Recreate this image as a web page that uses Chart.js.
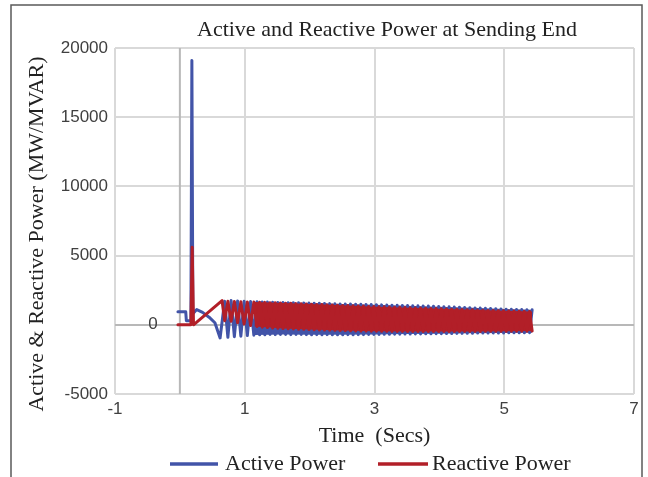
<!DOCTYPE html>
<html>
<head>
<meta charset="utf-8">
<script src="https://cdn.jsdelivr.net/npm/chart.js@4.4.1/dist/chart.umd.min.js"></script>
<style>
  html,body{margin:0;padding:0;background:#fff;}
  #wrap{width:648px;height:477px;}
</style>
</head>
<body>
<div id="wrap"><canvas id="chart" width="648" height="477"></canvas></div>
<script>
// start of the record (before the oscillations)
const activeStartTime = [-0.03, 0.09, 0.10, 0.17, 0.185, 0.20, 0.26, 0.35, 0.45, 0.54, 0.62];
const activeStart     = [950, 950, 300, 300, 19100, 800, 1100, 900, 550, 150, -950];
const reactiveStartTime = [-0.03, 0.17, 0.19, 0.21, 0.65];
const reactiveStart     = [0, 0, 5600, 0, 1750];

// oscillations (times shared by both series)
const bandTime = [
  0.69,0.74,0.79,0.84,0.89,0.94,0.99,1.04,1.09,1.14,1.19,
  1.23,1.27,1.31,1.35,1.39,1.43,1.47,1.51,1.55,1.59,
  1.63,1.67,1.71,1.75,1.79,1.83,1.87,1.91,1.95,1.99,
  2.03,2.07,2.11,2.15,2.19,2.23,2.27,2.31,2.35,2.39,
  2.43,2.47,2.51,2.55,2.59,2.63,2.67,2.71,2.75,2.79,
  2.83,2.87,2.91,2.95,2.99,3.03,3.07,3.11,3.15,3.19,
  3.23,3.27,3.31,3.35,3.39,3.43,3.47,3.51,3.55,3.59,
  3.63,3.67,3.71,3.75,3.79,3.83,3.87,3.91,3.95,3.99,
  4.03,4.07,4.11,4.15,4.19,4.23,4.27,4.31,4.35,4.39,
  4.43,4.47,4.51,4.55,4.59,4.63,4.67,4.71,4.75,4.79,
  4.83,4.87,4.91,4.95,4.99,5.03,5.07,5.11,5.15,5.19,
  5.23,5.27,5.31,5.35,5.39,5.43
];
const activeBand = [
  1700,-900,1750,-860,1720,-820,1700,-780,1680,-750,1660,
  -720,1650,-720,1640,-700,1630,-710,1620,-700,1610,
  -700,1600,-710,1600,-700,1590,-700,1580,-710,1570,
  -720,1560,-710,1550,-720,1540,-710,1530,-720,1520,
  -720,1510,-720,1500,-710,1500,-720,1490,-710,1480,
  -710,1470,-700,1460,-700,1450,-700,1440,-690,1430,
  -690,1420,-680,1410,-680,1400,-670,1390,-670,1380,
  -660,1370,-660,1360,-650,1350,-650,1340,-640,1330,
  -640,1310,-630,1300,-630,1280,-620,1270,-620,1250,
  -610,1240,-610,1220,-600,1210,-600,1190,-600,1180,
  -590,1160,-590,1150,-590,1130,-580,1120,-580,1110,
  -580,1100,-580,1090,-570,1080
];
const reactiveBand = [
  300,1700,250,1680,150,1660,50,1650,-50,1640,-120,
  1630,-170,1620,-200,1600,-230,1590,-250,1580,-270,
  1560,-290,1550,-300,1530,-320,1520,-330,1500,-340,
  1490,-360,1470,-370,1460,-380,1440,-390,1430,-400,
  1410,-410,1400,-420,1390,-430,1370,-440,1360,-450,
  1350,-450,1330,-460,1320,-460,1310,-470,1300,-470,
  1280,-480,1270,-480,1260,-480,1250,-490,1230,-490,
  1220,-490,1210,-490,1200,-490,1180,-490,1170,-490,
  1160,-490,1140,-490,1130,-490,1120,-480,1100,-480,
  1090,-480,1080,-480,1060,-480,1050,-470,1040,-470,
  1030,-470,1020,-470,1010,-470,1000,-460,990,-460,
  980,-460,970,-460,960,-450
];

// where the oscillations are too dense to tell apart, the band they paint
const envTime        = [1.15, 1.6, 2.0, 2.5, 3.0, 3.5, 4.0, 4.5, 5.0, 5.43];
const activeTop      = [1660, 1610, 1570, 1510, 1440, 1380, 1310, 1240, 1150, 1080];
const activeBottom   = [-740, -700, -710, -720, -705, -670, -640, -610, -590, -570];
const reactiveTop    = [1640, 1580, 1500, 1410, 1310, 1240, 1160, 1090, 1020, 960];
const reactiveBottom = [-120, -270, -340, -410, -470, -490, -490, -480, -470, -450];

const xTicks = [-1, 1, 3, 5, 7];
const yTicks = [-5000, 0, 5000, 10000, 15000, 20000];

const seriesNames = ["Active Power", "Reactive Power"];
const blue = "#4254a8";
const red = "#b21f28";
const serif = "'Liberation Serif', 'Times New Roman', serif";
const sans = "'Liberation Sans', Arial, sans-serif";

function toPoints(times, values){
  return times.map((t,i)=>({x:t, y:values[i]}));
}
const activeData = toPoints(activeStartTime.concat(bandTime), activeStart.concat(activeBand));
const reactiveData = toPoints(reactiveStartTime.concat(bandTime), reactiveStart.concat(reactiveBand));

function envSet(values, color, fillTo, order){
  return {
    data: toPoints(envTime, values), borderWidth: 0, borderColor: color,
    backgroundColor: color, fill: fillTo === null ? false : {target: fillTo}, order: order
  };
}

const decor = {
  id: "decor",
  beforeDatasetsDraw(chart){
    const {ctx, chartArea, scales} = chart;
    const x0 = scales.x.getPixelForValue(0);
    ctx.save();
    ctx.strokeStyle = "#b8b8b8";
    ctx.lineWidth = 2;
    ctx.beginPath();
    ctx.moveTo(x0, chartArea.top);
    ctx.lineTo(x0, chartArea.bottom);
    ctx.stroke();
    // the lone "0" label sits near the axis crossing
    ctx.fillStyle = "#404040";
    ctx.font = "17px " + sans;
    ctx.textAlign = "center";
    ctx.textBaseline = "middle";
    ctx.fillText("0", 153, scales.y.getPixelForValue(0));
    ctx.restore();
  },
  afterDraw(chart){
    const {ctx} = chart;
    ctx.save();
    // outer frame
    ctx.strokeStyle = "#5a5a5a";
    ctx.lineWidth = 1.5;
    ctx.strokeRect(11, 5, 631, 500);
    // title
    ctx.fillStyle = "#222";
    ctx.font = "22px " + serif;
    ctx.textAlign = "center";
    ctx.textBaseline = "middle";
    ctx.fillText("Active and Reactive Power at Sending End", 387, 30);
    // y title
    ctx.save();
    ctx.translate(37, 234);
    ctx.rotate(-Math.PI/2);
    ctx.fillText("Active & Reactive Power (MW/MVAR)", 0, 0);
    ctx.restore();
    // legend
    const items = [[170, 218, 225, blue], [378, 428, 432, red]];
    items.forEach((it, i)=>{
      ctx.strokeStyle = it[3];
      ctx.lineWidth = 3.5;
      ctx.beginPath();
      ctx.moveTo(it[0], 464);
      ctx.lineTo(it[1], 464);
      ctx.stroke();
      ctx.textAlign = "left";
      ctx.fillStyle = "#222";
      ctx.fillText(seriesNames[i], it[2], 464);
    });
    ctx.restore();
  }
};

new Chart(document.getElementById("chart"), {
  type: "line",
  data: {
    datasets: [
      { label: seriesNames[0], data: activeData, borderColor: blue, backgroundColor: blue, fill: false, order: 2 },
      { label: seriesNames[1], data: reactiveData, borderColor: red, backgroundColor: red, fill: false, order: 0 },
      envSet(activeTop, blue, null, 3),
      envSet(activeBottom, blue, 2, 3),
      envSet(reactiveTop, red, null, 1),
      envSet(reactiveBottom, red, 4, 1)
    ]
  },
  options: {
    responsive: false,
    animation: false,
    layout: { padding: { top: 48, left: 0, right: 14, bottom: 0 } },
    elements: {
      point: { radius: 0 },
      line: { borderWidth: 3, tension: 0, borderJoinStyle: "round", borderCapStyle: "round" }
    },
    plugins: {
      legend: { display: false },
      title: { display: false },
      tooltip: { enabled: false },
      filler: { propagate: false }
    },
    scales: {
      x: {
        type: "linear",
        min: xTicks[0],
        max: xTicks[xTicks.length-1],
        afterBuildTicks(scale){ scale.ticks = xTicks.map(v=>({value:v})); },
        afterFit(scale){ scale.height = 83; },
        border: { display: false },
        grid: { color: "#d9d9d9", lineWidth: 2, drawTicks: false },
        ticks: { font: { size: 17, family: sans }, color: "#404040", padding: 5, maxRotation: 0 },
        title: { display: true, text: "Time  (Secs)", font: { size: 22, family: serif }, color: "#222", padding: { top: 0, bottom: 28 } }
      },
      y: {
        min: yTicks[0],
        max: yTicks[yTicks.length-1],
        afterBuildTicks(scale){ scale.ticks = yTicks.map(v=>({value:v})); },
        afterFit(scale){ scale.width = 115; },
        border: { display: false },
        grid: {
          color: c => c.tick && c.tick.value === 0 ? "#b8b8b8" : "#d9d9d9",
          lineWidth: 2,
          drawTicks: false
        },
        ticks: {
          font: { size: 17, family: sans }, color: "#404040", padding: 7,
          callback: v => v === 0 ? "" : v
        }
      }
    }
  },
  plugins: [decor]
});
</script>
</body>
</html>
